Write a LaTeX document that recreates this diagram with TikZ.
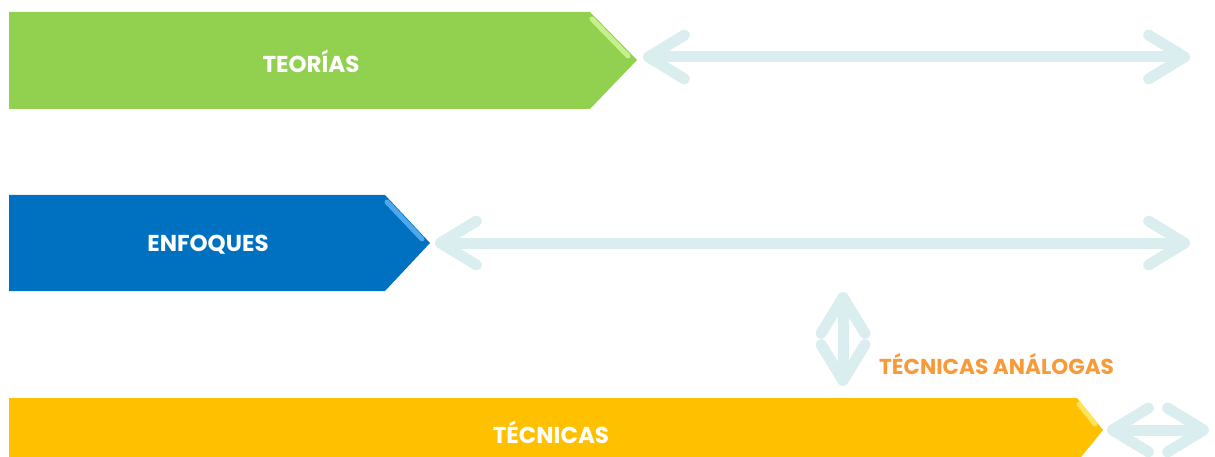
\documentclass[tikz,border=0pt]{standalone}
\usepackage{fontspec}
\setmainfont{Poppins}
\usetikzlibrary{arrows.meta}
\definecolor{tgreen}{HTML}{92D050}
\definecolor{tgreenhi}{HTML}{C8F08A}
\definecolor{tblue}{HTML}{0070C0}
\definecolor{tbluehi}{HTML}{4FA8EE}
\definecolor{tyellow}{HTML}{FFC000}
\definecolor{tyellowhi}{HTML}{FFE35A}
\definecolor{tarrow}{HTML}{DAEDEF}
\definecolor{torange}{HTML}{F79A3A}
\tikzset{
  bandlabel/.style={text=white,font=\bfseries\fontsize{23}{27}\selectfont,inner sep=0pt,anchor=center},
  dblarrow/.style={draw=tarrow,line width=11pt,line cap=round,
    arrows={Straight Barb[length=36pt,width=44pt,round]-Straight Barb[length=36pt,width=44pt,round]}},
  bevel/.style={line width=5pt,line cap=round},
}
\begin{document}
\begin{tikzpicture}[x=1pt,y=-1pt]
\useasboundingbox (0,0) rectangle (1215,457);
\clip (0,0) rectangle (1215,457);
% TEORIAS band
\fill[tgreen] (9,12) -- (590,12) -- (637,60) -- (590,109) -- (9,109) -- cycle;
\draw[bevel,tgreenhi] (592,19) -- (628,56);
\node[bandlabel] (teorias) at (311,61) {TEORÍAS};
\coordinate (tipT) at (643,57);
\coordinate (endT) at (1190,57);
% ENFOQUES band
\fill[tblue] (9,195) -- (385,195) -- (430,243) -- (385,291) -- (9,291) -- cycle;
\draw[bevel,tbluehi] (387,202) -- (422,239);
\node[bandlabel] (enfoques) at (208,245) {ENFOQUES};
\coordinate (tipE) at (435,243);
\coordinate (endE) at (1190,243);
% TECNICAS band
\fill[tyellow] (9,398) -- (1077,398) -- (1103,430) -- (1077,462) -- (9,462) -- cycle;
\draw[bevel,tyellowhi] (1079,404) -- (1095,424);
\node[bandlabel] (tecnicas) at (551,432) {TÉCNICAS};
\coordinate (tipC) at (1107,430);
\coordinate (endC) at (1209,430);
% vertical arrow
\coordinate (vtop) at (843,292);
\coordinate (vbot) at (843,386);
% arrows
\draw[dblarrow] (tipT) -- (endT);
\draw[dblarrow] (tipE) -- (endE);
\draw[dblarrow] (tipC) -- (endC);
\draw[dblarrow] (vtop) -- (vbot);
\node[text=torange,font=\bfseries\fontsize{21.6}{25}\selectfont,anchor=west,inner sep=0pt] (analogas) at (879,364) {TÉCNICAS ANÁLOGAS};
\end{tikzpicture}
\end{document}
